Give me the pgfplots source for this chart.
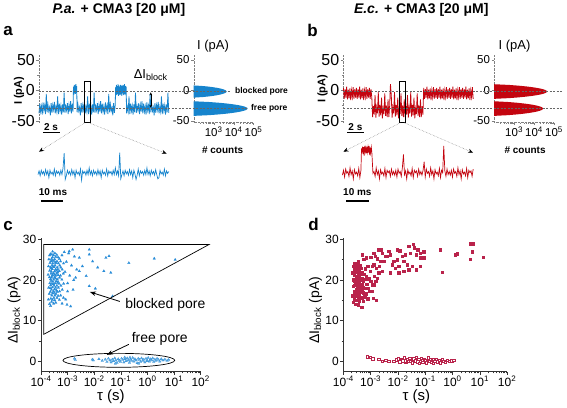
\documentclass[border=0pt]{standalone}
\usepackage{fontspec}
\setmainfont{Liberation Sans}
\usepackage{pgfplots}
\pgfplotsset{compat=1.18}
\usetikzlibrary{arrows.meta}
\definecolor{trblue}{RGB}{22,132,205}
\definecolor{mkblue}{RGB}{40,140,215}
\definecolor{trred}{RGB}{195,5,15}
\definecolor{mkred}{RGB}{185,35,75}
\newcommand{\fs}[1]{\fontsize{#1}{#1}\selectfont}
\pgfplotsset{
 mytrace/.style={scale only axis, width=130pt, height=67.7pt, xmin=0, xmax=160, ymin=-53, ymax=58,
   axis x line=none, axis y line=left, axis line style={-, black!50, densely dotted},
   every outer y axis line/.append style={-}, every inner y axis line/.append style={-},
   ytick={-50,0,50}, yticklabels={-50,0,50}, minor ytick={-25,25}, tick align=outside,
   major tick length=2.5pt, minor tick length=1.5pt, tick style={black!50, solid},
   yticklabel style={font=\fs{16}, inner sep=1.5pt}, clip=false},
 myhist/.style={scale only axis, width=60pt, height=67.7pt, xmin=100, xmax=1e5, ymin=-53, ymax=58,
   axis x line=bottom, axis y line=left, axis line style={-, black!50, densely dotted},
   every outer x axis line/.append style={-}, every outer y axis line/.append style={-},
   every inner x axis line/.append style={-}, every inner y axis line/.append style={-},
   xtick={1e3,1e4,1e5}, xticklabels={10\textsuperscript{3},10\textsuperscript{4},10\textsuperscript{5}},
   minor xtick={200,300,400,500,600,700,800,900,2000,3000,4000,5000,6000,7000,8000,9000,20000,30000,40000,50000,60000,70000,80000,90000},
   ytick={-50,0,50}, yticklabels={-50,0,50}, tick align=outside,
   major tick length=2.5pt, minor tick length=1.2pt, tick style={black!50, solid},
   ticklabel style={font=\fs{11.5}, inner sep=1.5pt}, clip=false},
 myzoom/.style={scale only axis, width=131pt, height=30.5pt, xmin=0, xmax=120, ymin=-45, ymax=5, hide axis, clip=false},
 myscat/.style={scale only axis, height=133.6pt, xmin=1e-4, xmax=1e2, ymin=-2.6, ymax=30.3,
   axis lines=left, axis line style={-, black!80, line width=0.6pt},
   every outer x axis line/.append style={-}, every outer y axis line/.append style={-},
   every inner x axis line/.append style={-}, every inner y axis line/.append style={-},
   xtick={1e-4,1e-3,1e-2,1e-1,1,10,100},
   xticklabels={10\textsuperscript{-4},10\textsuperscript{-3},10\textsuperscript{-2},10\textsuperscript{-1},10\textsuperscript{0},10\textsuperscript{1},10\textsuperscript{2}},
   minor xtick={2e-4,3e-4,4e-4,5e-4,6e-4,7e-4,8e-4,9e-4,2e-3,3e-3,4e-3,5e-3,6e-3,7e-3,8e-3,9e-3,0.02,0.03,0.04,0.05,0.06,0.07,0.08,0.09,0.2,0.3,0.4,0.5,0.6,0.7,0.8,0.9,2,3,4,5,6,7,8,9,20,30,40,50,60,70,80,90},
   ytick={0,10,20,30}, yticklabels={0,10,20,30}, minor ytick={5,15,25}, tick align=outside,
   major tick length=3pt, minor tick length=1.8pt, tick style={black!80, line width=0.5pt},
   ticklabel style={font=\fs{12}, inner sep=1.5pt}, clip=false},
}
\begin{document}
\begin{tikzpicture}
\begin{scope}[x=1pt,y=-1pt]
\path[use as bounding box] (0,0) rectangle (567,408);
\end{scope}

%================ panel a: trace
\begin{axis}[mytrace, at={(38pt,-122.8pt)}, anchor=south west]
\addplot[trblue, line width=0.8pt] coordinates {
(0,-38)(1,-22)(2,-35)(3,-26)(4,-40)(5,-20)(6,-33)(7,-25)(8,-39)(9,-6)(10,-36)(11,-23)(12,-34)(13,-28)(14,-41)(15,-21)(16,-37)(17,-24)(18,-32)(19,-19)(20,-38)(21,-27)(22,-35)(23,-10)(24,-39)(25,-22)(26,-34)(27,-25)(28,-40)(29,-23)(30,-36)(31,-4)(32,-37)(33,-26)(34,-33)(35,-21)(36,-39)(37,-24)(38,-35)(39,-18)
(40,-38)(41,-22)(42,-35)
(42.5,6)(43,-7)(43.5,9)(44,-5)(44.5,8)(45,-6)(45.5,10)(46,-4)(46.5,7)(47,-36)
(48,-23)(49,-34)(50,-28)(51,-41)(52,-21)(53,-37)(54,-24)(55,-32)(56,-19)(57,-38)(58,-27)(59,-35)(60,-10)(61,-39)(62,-22)(63,-34)(64,-25)(65,-40)(66,-23)(67,-36)(68,-4)(69,-37)(70,-26)(71,-33)(72,-21)(73,-39)(74,-24)(75,-35)(76,-18)
(77,-38)(78,-22)(79,-35)(80,-26)(81,-40)(82,-20)(83,-33)(84,-25)(85,-39)(86,-6)(87,-36)(88,-23)(89,-34)(90,-28)(91,-41)(92,-21)(93,-37)(94,-24)
(94.5,5)(95,-7)(95.5,9)(96,-8)(96.5,7)(97,-6)(97.5,10)(98,-9)(98.5,8)(99,-7)(99.5,6)(100,-8)(100.5,9)(101,-6)(101.5,8)(102,-9)(102.5,7)(103,-5)(103.5,9)(104,-8)(104.5,8)(105,-7)(105.5,10)(106,-6)(106.5,7)(107,-8)(107.5,6)
(108,-38)(109,-27)(110,-35)(111,-10)(112,-39)(113,-22)(114,-34)(115,-25)(116,-40)(117,-23)(118,-36)(119,-4)(120,-37)(121,-26)(122,-33)(123,-21)(124,-39)(125,-24)(126,-35)(127,-18)
(128,-38)(129,-22)(130,-35)(131,-26)(132,-40)(133,-20)(134,-33)(135,-25)(136,-39)(137,-6)(138,-36)(139,-23)(140,-34)(141,-28)(142,-41)(143,-21)(144,-37)(145,-24)(146,-32)(147,-19)(148,-38)(149,-27)(150,-35)(151,-10)(152,-39)(153,-22)(154,-34)(155,-25)(156,-40)(157,-23)(158,-36)(159,-4)(160,-37)
};
\end{axis}

%================ panel a: histogram
\begin{semilogxaxis}[myhist, at={(193pt,-122.8pt)}, anchor=south west]
\addplot[draw=none, fill=trblue] coordinates {
(100,-12)(299,-11)(585,-10)(991,-9)(1517,-8)(2138,-7)(2805,-6)(3443,-5)(3981,-4)(4345,-3)(4467,-2)(4345,-1)(3981,0)(3443,1)(2805,2)(2138,3)(1517,4)(991,5)(585,6)(299,7)(100,8)};
\addplot[draw=none, fill=trblue] coordinates {
(100,-42)(598,-40.8)(1799,-39.6)(4256,-38.4)(8551,-37.2)(14997,-36)(23388,-34.8)(32810,-33.6)(41591,-32.4)(47863,-31.2)(50119,-30)(47863,-28.8)(41591,-27.6)(32810,-26.4)(23388,-25.2)(14997,-24)(8551,-22.8)(4256,-21.6)(1799,-20.4)(598,-19.2)(100,-18)};
\end{semilogxaxis}

%================ panel a: zoomed trace
\begin{axis}[myzoom, at={(37pt,-182.2pt)}, anchor=south west]
\addplot[trblue, line width=0.7pt] coordinates {
(0,-33)(1,-27)(2,-35)(3,-26)(4,-32)(5,-28)(6,-34)(7,-25)(8,-33)(9,-27)(10,-38)(11,-26)(12,-32)(13,-29)(14,-34)(15,-24)(16,-35)(17,-27)(18,-31)(19,-28)(20,-34)(21,-26)(22,-33)(23,-22)
(24,2)(25,-41)
(26,-35)(27,-26)(28,-32)(29,-28)(30,-34)(31,-25)(32,-33)(33,-27)(34,-38)(35,-26)(36,-32)(37,-29)(38,-34)(39,-24)(40,-42)(41,-27)(42,-31)(43,-28)(44,-34)(45,-26)(46,-33)(47,-22)
(48,-33)(49,-27)(50,-35)(51,-26)(52,-32)(53,-28)(54,-34)(55,-25)(56,-33)(57,-27)(58,-38)(59,-26)(60,-32)(61,-29)(62,-34)(63,-24)(64,-35)(65,-27)(66,-31)(67,-28)(68,-34)(69,-26)(70,-33)(71,-22)
(72,-33)(73,-27)(74,-35)(75,3)(76,-40)
(77,-33)(78,-27)(79,-35)(80,-26)(81,-32)(82,-28)(83,-34)(84,-25)(85,-33)(86,-27)(87,-38)(88,-26)(89,-32)(90,-41)(91,-34)(92,-24)(93,-35)(94,-27)(95,-31)(96,-28)(97,-34)(98,-26)(99,-33)(100,-22)
(101,-33)(102,-27)(103,-35)(104,-26)(105,-32)(106,-28)(107,-34)(108,-25)(109,-33)(110,-40)(111,-38)(112,-26)(113,-32)(114,-29)(115,-34)(116,-24)(117,-35)(118,-27)(119,-31)(120,-28)
};
\end{axis}

%================ panel b: trace
\begin{axis}[mytrace, at={(343pt,-122.8pt)}, anchor=south west]
\addplot[trred, line width=0.8pt] coordinates {
(0,4)(1,-14)(2,2)(3,-12)(4,6)(5,-15)(6,1)(7,-13)(8,3)(9,-16)(10,0)(11,-11)(12,5)(13,-14)(14,2)(15,-12)
(16,4)(17,-14)(18,2)(19,-12)(20,6)(21,-15)(22,1)(23,-13)(24,3)(25,-16)(26,0)(27,-11)(28,5)(29,-14)(30,2)(31,-12)
(32,4)(33,-14)(34,2)(35,-12)
(36,-44)(37,-26)(38,-40)(39,-8)(40,-45)(41,-28)(42,-38)(43,-3)(44,-43)(45,-24)(46,-41)(47,-12)(48,-46)(49,-30)(50,-39)(51,-5)(52,-42)(53,-25)(54,-44)(55,-15)
(56,-44)(57,-26)(58,10)(59,-8)(60,-45)(61,-28)(62,-38)(63,-3)(64,-43)(65,-24)(66,-41)(67,-12)(68,-46)(69,-30)(70,-39)(71,-5)(72,-42)(73,-25)(74,-44)(75,-15)
(76,-44)(77,-26)(78,-40)(79,-8)(80,-45)(81,-28)(82,-38)(83,-3)(84,-43)(85,-24)(86,-41)(87,-12)(88,-46)(89,-30)(90,-39)(91,-5)(92,-42)(93,-25)(94,-44)(95,-15)
(96,-44)(97,-26)(98,-40)
(99,4)(100,-14)(101,2)(102,-12)(103,6)(104,-15)(105,1)(106,-13)(107,3)(108,-16)(109,0)(110,-11)(111,5)(112,-14)(113,2)(114,-12)
(115,4)(116,-14)(117,2)(118,-12)(119,6)(120,-15)(121,1)(122,-13)(123,3)(124,-16)(125,0)(126,-11)(127,5)(128,-14)(129,2)(130,-12)
(131,4)(132,-14)(133,2)(134,-12)(135,6)(136,-15)(137,1)(138,-13)(139,3)(140,-16)(141,0)(142,-11)(143,5)(144,-14)(145,2)(146,-12)
(147,4)(148,-14)(149,2)(150,-12)(151,6)(152,-15)(153,1)(154,-13)(155,3)(156,-16)(157,0)(158,-11)(159,5)(160,-14)
};
\end{axis}

%================ panel b: histogram
\begin{semilogxaxis}[myhist, at={(494pt,-122.8pt)}, anchor=south west]
\addplot[draw=none, fill=trred] coordinates {
(100,-14)(579,-12.8)(1706,-11.6)(3972,-10.4)(7870,-9.2)(13677,-8)(21135,-6.8)(29444,-5.6)(37154,-4.4)(42658,-3.2)(44668,-2)(42658,-0.8)(37154,0.4)(29444,1.6)(21135,2.8)(13677,4)(7870,5.2)(3972,6.4)(1706,7.6)(579,8.8)(100,10)};
\addplot[draw=none, fill=trred] coordinates {
(100,-42)(507,-40.8)(1377,-39.6)(3013,-38.4)(5662,-37.2)(9419,-36)(14125,-34.8)(19187,-33.6)(23768,-32.4)(27040,-31.2)(28184,-30)(27040,-28.8)(23768,-27.6)(19187,-26.4)(14125,-25.2)(9419,-24)(5662,-22.8)(3013,-21.6)(1377,-20.4)(507,-19.2)(100,-18)};
\end{semilogxaxis}

%================ panel b: zoomed trace
\begin{axis}[myzoom, at={(342pt,-182.2pt)}, anchor=south west]
\addplot[trred, line width=0.7pt] coordinates {
(0,-34)(1,-26)(2,-37)(3,-24)(4,-31)(5,-28)(6,-36)(7,-22)(8,-33)(9,-27)(10,-40)(11,-25)(12,-32)(13,-29)(14,-35)(15,-23)(16,-38)(17,-26)
(17.5,10)(18,2)(18.5,13)(19,4)(19.5,12)(20,-2)(20.5,14)(21,5)(21.5,11)(22,2)(22.5,13)(23,4)(23.5,12)(24,3)(24.5,14)(25,-1)(25.5,11)(26,3)(26.5,12)(27,4)
(28,-31)(29,-28)(30,-36)(31,-22)(32,-33)(33,-27)(34,-40)(35,-25)(36,-32)(37,-29)(38,-35)(39,-23)(40,-38)(41,-26)(42,-30)(43,-27)(44,-36)(45,-24)(46,-33)(47,-28)(48,-34)(49,-26)(50,-37)(51,-24)(52,-31)(53,-28)(54,-36)(55,-22)
(56,0)
(57,-33)(58,-27)(59,-40)(60,-25)(61,-32)(62,-29)(63,-35)(64,-23)(65,-38)(66,-26)(67,-30)(68,-27)(69,-36)(70,-24)(71,-33)(72,-28)(73,-34)(74,-26)
(75,-12)
(76,-37)(77,-24)(78,-31)(79,-28)(80,-36)(81,-22)(82,-33)(83,-27)(84,-40)(85,-25)(86,-32)(87,-29)(88,-35)(89,-23)(90,-38)(91,-26)(92,-30)
(93,14)
(94,-27)(95,-36)(96,-24)(97,-33)(98,-28)(99,-34)(100,-26)(101,-37)(102,-24)(103,-31)(104,-28)(105,-36)(106,-22)(107,-33)(108,-27)(109,-40)(110,-25)(111,-32)(112,-29)(113,-35)(114,-23)(115,-38)(116,-26)(117,-30)(118,-27)(119,-36)(120,-24)
};
\end{axis}

%================ panel c
\begin{semilogxaxis}[myscat, width=160pt, at={(40pt,-372.3pt)}, anchor=south west]
\addplot[only marks, mark=triangle*, mark size=1.5pt, mark options={fill=mkblue, draw=mkblue, line width=0.2pt}] coordinates {
(1.9e-4,15.2)(1.95e-4,18.1)(1.85e-4,21.3)(1.92e-4,23.4)(1.98e-4,25.1)
(2.1e-4,14.1)(2.05e-4,16.6)(2.15e-4,19.2)(2.08e-4,20.7)(2.12e-4,22.3)(2.18e-4,24.2)(2.1e-4,26.1)
(2.3e-4,13.6)(2.35e-4,15.4)(2.25e-4,17.1)(2.32e-4,18.7)(2.28e-4,20.2)(2.38e-4,21.6)(2.3e-4,23.1)(2.36e-4,24.6)(2.27e-4,26.4)
(2.5e-4,14.6)(2.55e-4,16.2)(2.48e-4,17.6)(2.58e-4,19.1)(2.52e-4,20.6)(2.45e-4,22.1)(2.6e-4,23.6)(2.5e-4,25.2)(2.56e-4,26.3)
(2.7e-4,15.1)(2.75e-4,16.7)(2.68e-4,18.2)(2.8e-4,19.6)(2.72e-4,21.2)(2.65e-4,22.7)(2.78e-4,24.1)(2.7e-4,25.6)(2.74e-4,27.0)
(3.0e-4,14.2)(3.05e-4,15.6)(2.95e-4,17.2)(3.1e-4,18.6)(3.0e-4,20.1)(2.92e-4,21.7)(3.08e-4,23.2)(3.02e-4,24.7)(2.97e-4,26.1)
(3.3e-4,15.0)(3.35e-4,16.2)(3.25e-4,17.7)(3.4e-4,19.2)(3.3e-4,20.7)(3.22e-4,22.1)(3.38e-4,23.6)(3.28e-4,25.1)(3.32e-4,26.6)
(3.6e-4,14.4)(3.65e-4,16.6)(3.55e-4,18.1)(3.7e-4,19.7)(3.6e-4,21.1)(3.52e-4,22.6)(3.68e-4,24.2)(3.58e-4,25.7)
(4.0e-4,15.6)(4.1e-4,17.1)(3.95e-4,18.6)(4.05e-4,20.2)(3.9e-4,21.6)(4.08e-4,23.1)(4.0e-4,24.6)(3.92e-4,26.2)
(4.4e-4,16.1)(4.5e-4,18.1)(4.35e-4,19.6)(4.45e-4,21.2)(4.3e-4,22.6)(4.48e-4,24.1)(4.4e-4,25.6)
(4.9e-4,15.1)(5.0e-4,17.2)(4.8e-4,19.1)(4.95e-4,20.6)(4.85e-4,22.2)(5.05e-4,23.6)(4.9e-4,25.2)
(5.5e-4,16.2)(5.6e-4,18.6)(5.4e-4,21.1)(5.55e-4,23.1)(5.45e-4,24.6)
(6.2e-4,14.2)(6.3e-4,17.6)(6.1e-4,20.1)(6.25e-4,22.6)(6.15e-4,26.1)
(7.0e-4,15.6)(7.1e-4,19.1)(6.9e-4,21.6)(7.05e-4,24.1)
(2.4e-4,19.8)(2.6e-4,21.0)(2.9e-4,19.0)(3.2e-4,21.3)(3.5e-4,20.4)(3.8e-4,22.3)(4.2e-4,19.3)(2.2e-4,18.0)(2.6e-4,24.8)(3.15e-4,16.8)(3.45e-4,24.3)(3.85e-4,17.4)(4.25e-4,21.9)(2.45e-4,22.9)(2.85e-4,23.3)
(8.0e-4,22.0)(9.0e-4,24.5)(1.0e-3,19.2)(1.1e-3,26.6)(1.2e-3,21.1)(1.4e-3,23.6)(1.6e-3,17.6)(1.8e-3,25.8)(2.2e-3,22.6)(8.5e-4,15.2)(7.5e-4,26.9)(9.5e-4,13.9)(1.15e-3,27.1)(1.55e-3,27.5)
(6.5e-3,27.5)(6.5e-3,26.3)(2.75e-3,25.5)(3.6e-3,23.4)(8.7e-3,24.6)(1.35e-2,23.1)(2.75e-2,25.5)(3.6e-2,25.9)(2.3e-2,22.2)(4.2e-2,21.8)(6.5e-3,18.5)(1.1e-2,17.9)(4.9e-2,16.0)(0.2,24.2)(1.8,25.3)(11,25.0)(1.3e-3,13.5)(2.0e-3,20.6)(1.0e-3,17.2)(2.75e-3,22.2)(1.7e-3,20.0)(5.0e-3,21.0)
};
\addplot[only marks, mark=triangle*, mark size=1.5pt, mark options={fill=mkblue!70, draw=mkblue, line width=0.2pt}] coordinates {
(1.8e-3,0.6)(1.95e-3,0.3)(8.5e-3,0.4)(9.2e-3,0.2)(1.5e-2,0.5)(2.0e-2,0.1)(2.6e-2,0.4)(3.0e-2,-0.2)(3.4e-2,0.6)(3.9e-2,0.2)(4.3e-2,-0.3)(4.8e-2,0.4)(5.3e-2,0.0)(5.9e-2,0.7)(6.5e-2,0.2)(7.2e-2,-0.4)(8.0e-2,0.5)(8.8e-2,0.1)(9.7e-2,-0.2)(0.107,0.6)(0.118,0.3)(0.13,-0.3)(0.143,0.5)(0.158,0.0)(0.174,0.7)(0.19,0.2)(0.21,-0.4)(0.23,0.4)(0.255,0.1)(0.28,0.8)(0.31,-0.1)(0.34,0.5)(0.375,0.2)(0.41,-0.5)(0.45,0.6)(0.5,0.3)(0.55,-0.2)(0.6,0.7)(0.66,0.1)(0.73,0.4)(0.8,-0.3)(0.88,0.6)(0.97,0.2)(1.07,0.8)(1.18,-0.1)(1.3,0.5)(1.43,0.2)(1.57,0.7)(1.73,-0.2)(1.9,0.4)(2.1,0.1)(2.3,0.6)(2.6,0.3)(2.9,-0.1)(3.3,0.5)(3.8,0.2)(4.5,0.4)(5.5,0.1)(6.3,0.3)(0.062,-0.6)(0.22,0.9)(0.47,-0.6)(1.0,0.0)(0.14,0.9)
};
\end{semilogxaxis}

%================ panel d
\begin{semilogxaxis}[myscat, width=164pt, at={(343pt,-372.3pt)}, anchor=south west]
\addplot[only marks, mark=square*, mark size=1.2pt, mark options={fill=mkred, draw=mkred, line width=0.2pt}] coordinates {
(2.2e-4,16.2)(2.25e-4,18.5)(2.3e-4,20.1)(2.2e-4,21.8)(2.35e-4,23.4)(2.28e-4,14.6)
(2.5e-4,15.2)(2.55e-4,17.1)(2.45e-4,18.8)(2.6e-4,19.9)(2.5e-4,21.2)(2.58e-4,22.6)(2.48e-4,24.1)
(2.8e-4,14.1)(2.75e-4,16.0)(2.85e-4,17.6)(2.7e-4,19.3)(2.88e-4,20.6)(2.78e-4,22.0)(2.82e-4,23.6)
(3.1e-4,15.1)(3.05e-4,16.7)(3.15e-4,18.2)(3.0e-4,19.6)(3.2e-4,21.0)(3.1e-4,22.5)(3.08e-4,24.0)
(3.45e-4,13.9)(3.4e-4,15.8)(3.5e-4,17.3)(3.35e-4,18.8)(3.55e-4,20.3)(3.42e-4,21.7)(3.48e-4,23.1)(3.4e-4,24.5)
(3.8e-4,14.9)(3.75e-4,16.4)(3.9e-4,17.9)(3.7e-4,19.4)(3.85e-4,20.8)(3.78e-4,22.3)(3.95e-4,23.7)
(4.2e-4,15.5)(4.3e-4,17.0)(4.1e-4,18.5)(4.25e-4,20.0)(4.15e-4,21.4)(4.35e-4,22.9)
(4.7e-4,13.3)(4.8e-4,15.7)(4.6e-4,17.4)(4.75e-4,19.0)(4.65e-4,20.5)(4.85e-4,22.0)(4.8e-4,26.3)
(5.3e-4,14.8)(5.4e-4,16.9)(5.2e-4,18.3)(5.35e-4,19.7)(5.5e-4,21.5)(5.5e-4,25.1)
(6.0e-4,15.9)(6.2e-4,18.0)(5.9e-4,20.2)(6.1e-4,22.8)(6.9e-4,25.5)
(6.8e-4,16.6)(7.0e-4,19.0)(6.7e-4,21.0)(7.2e-4,23.5)
(7.6e-4,15.4)(8.0e-4,18.0)(8.5e-4,20.3)(8.2e-4,23.4)
(9.0e-4,17.2)(9.8e-4,19.7)(9.3e-4,22.2)(9.8e-4,25.6)
(1.1e-3,18.9)(1.2e-3,15.6)(1.1e-3,23.4)(1.29e-3,26.7)(1.29e-3,23.8)
(1.48e-3,25.9)(1.6e-3,23.0)(1.7e-3,25.3)(1.95e-3,21.8)(1.95e-3,27.5)(2.3e-3,27.5)(2.3e-3,24.6)(2.6e-3,26.7)(2.6e-3,22.2)(3.0e-3,24.6)(3.5e-3,25.9)(4.0e-3,25.9)(4.6e-3,27.1)(5.2e-3,21.8)(5.2e-3,26.3)(6.0e-3,23.8)(6.9e-3,24.6)(7.9e-3,23.0)(1.7e-3,20.5)(1.5e-3,19.7)(1.3e-3,18.9)(1.1e-3,17.2)(1.6e-3,15.1)(1.3e-3,21.0)(2.0e-3,23.4)
(0.35,27.5)(0.41,22.0)(1.26,26.3)(1.45,26.5)(4.5,29.0)(5.6,29.0)(5.1,27.0)(4.5,25.1)(13.2,25.6)(0.087,27.0)(0.052,27.5)(0.038,28.0)(0.066,25.5)(0.035,28.8)(0.0245,28.4)(0.028,26.7)(0.0186,26.3)(0.0162,24.6)(0.0214,23.8)(0.033,23.4)(0.0162,22.2)(0.0107,23.4)(0.0093,27.5)(0.0115,27.3)(0.045,26.3)(0.05,27.5)(0.066,26.7)(0.087,25.5)(0.066,23.4)(0.045,22.6)(0.0245,22.6)(0.0107,21.8)(0.0093,25.0)(0.014,25.9)
};
\addplot[only marks, mark=square*, mark size=1.2pt, mark options={fill=white, draw=mkred, line width=0.4pt}] coordinates {
(7.6e-4,1.1)(9.8e-4,0.9)(1.2e-3,0.6)(1.95e-3,0.5)(2.6e-3,0.0)(3.5e-3,0.2)(4.6e-3,0.0)(6.9e-3,-0.1)(8.5e-3,0.3)(1.0e-2,0.6)(1.15e-2,-0.2)(1.3e-2,0.4)(1.5e-2,0.1)(1.7e-2,0.8)(1.9e-2,-0.3)(2.15e-2,0.5)(2.4e-2,0.0)(2.7e-2,0.7)(3.0e-2,0.2)(3.4e-2,-0.4)(3.8e-2,0.6)(4.2e-2,0.1)(4.7e-2,0.9)(5.2e-2,-0.2)(5.8e-2,0.4)(6.5e-2,0.0)(7.2e-2,0.7)(8.0e-2,-0.3)(9.0e-2,0.5)(0.1,0.1)(0.11,-0.4)(0.125,0.6)(0.14,0.0)(0.155,0.4)(0.175,-0.3)(0.195,0.3)(0.22,0.0)(0.25,0.5)(0.28,-0.2)(0.32,0.2)(0.36,-0.4)(0.41,0.3)(0.47,0.0)(0.55,-0.3)(0.65,0.2)(0.78,-0.1)(0.92,0.1)(1.1,0.2)(0.06,-0.5)(0.018,0.1)(0.028,-0.1)(0.13,0.8)(0.2,-0.5)
};
\end{semilogxaxis}

%================ annotations (pixel coordinates, y downwards)
\begin{scope}[x=1pt,y=-1pt]
\node[font=\bfseries\fs{14}] at (118,10) {\textit{P.a.} + CMA3 [20 μM]};
\node[font=\bfseries\fs{14}] at (421,10) {\textit{E.c.} + CMA3 [20 μM]};
\node[font=\bfseries\fs{17}] at (7,31) {a};
\node[font=\bfseries\fs{17}] at (312,30) {b};
\node[font=\bfseries\fs{17}] at (7,226) {c};
\node[font=\bfseries\fs{17}] at (313,225) {d};
\node[rotate=90, font=\bfseries\fs{11}] at (18,91) {I (pA)};
\node[rotate=90, font=\bfseries\fs{11}] at (322,89) {I (pA)};
\node[font=\fs{13}, anchor=west] at (193,46) {I (pA)};
\node[font=\fs{13}, anchor=west] at (495,46) {I (pA)};
\node[font=\bfseries\fs{10}] at (222,150) {\# counts};
\node[font=\bfseries\fs{10}] at (525,150) {\# counts};
\node[font=\bfseries\fs{8.5}, anchor=west] at (231,91.7) {blocked pore};
\node[font=\bfseries\fs{8.5}, anchor=west] at (247,108.8) {free pore};
\draw[black!60, dash pattern=on 2pt off 1.5pt, line width=0.5pt] (38,91.7) -- (230,91.7);
\draw[black!60, dash pattern=on 2pt off 1.5pt, line width=0.5pt] (38,108.8) -- (246,108.8);
\draw[black!60, dash pattern=on 2pt off 1.5pt, line width=0.5pt] (343,91.7) -- (562,91.7);
\draw[black!60, dash pattern=on 2pt off 1.5pt, line width=0.5pt] (343,108.8) -- (562,108.8);
\node[font=\fs{13}] at (150,75) {ΔI\textsubscript{block}};
\draw[{Stealth[length=3pt,width=2.6pt]}-{Stealth[length=3pt,width=2.6pt]}, line width=0.5pt] (150,92.5) -- (150,108);
\draw[black, line width=0.6pt] (83,81) rectangle (89,123);
\draw[black, line width=0.6pt] (399,81) rectangle (405,123);
\draw[black!50, densely dotted, line width=0.5pt, -{Stealth[length=5pt,width=4pt,color=black]}] (84,123) -- (38,152);
\draw[black!50, densely dotted, line width=0.5pt, -{Stealth[length=5pt,width=4pt,color=black]}] (88,123) -- (166,154);
\draw[black!50, densely dotted, line width=0.5pt, -{Stealth[length=5pt,width=4pt,color=black]}] (400,123) -- (343,152);
\draw[black!50, densely dotted, line width=0.5pt, -{Stealth[length=5pt,width=4pt,color=black]}] (404,123) -- (473,153);
\node[font=\bfseries\fs{10}] at (50,127) {2 s};
\draw[line width=1.2pt] (42,133) -- (59,133);
\node[font=\bfseries\fs{10}] at (355,127) {2 s};
\draw[line width=1.2pt] (347,133) -- (364,133);
\node[font=\bfseries\fs{10}] at (52,192) {10 ms};
\draw[line width=1.5pt] (40,201.5) -- (62,201.5);
\node[font=\bfseries\fs{10}] at (357,192) {10 ms};
\draw[line width=1.5pt] (346,201.5) -- (369,201.5);
\draw[black, line width=0.7pt] (42.7,245) -- (208.3,245) -- (42.7,335) -- cycle;
\draw[black, line width=0.7pt] (118,361) ellipse [x radius=56, y radius=7];
\node[font=\fs{14}, anchor=west] at (121,305) {blocked pore};
\draw[-{Stealth[length=6pt,width=4.5pt]}, line width=0.8pt] (119,302) -- (89,292.5);
\node[font=\fs{14}] at (159,340) {free pore};
\draw[-{Stealth[length=6pt,width=4.5pt]}, line width=0.8pt] (128,345) -- (106,355.5);
\node[font=\fs{15}] at (110,397) {τ (s)};
\node[font=\fs{15}] at (416,397) {τ (s)};
\node[rotate=90, font=\fs{14}] at (13,311) {ΔI\textsubscript{block} (pA)};
\node[rotate=90, font=\fs{14}] at (315,311) {ΔI\textsubscript{block} (pA)};
\end{scope}
\end{tikzpicture}
\end{document}
